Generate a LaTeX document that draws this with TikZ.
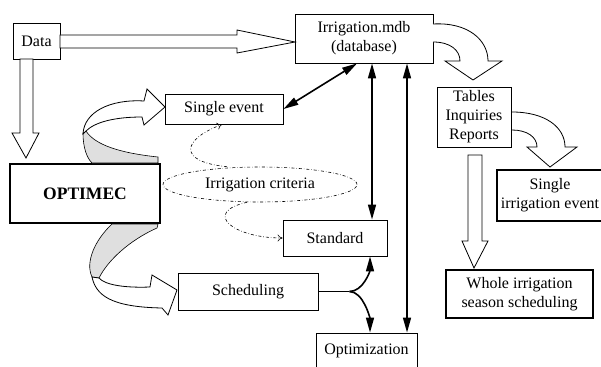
\documentclass[tikz,border=0pt]{standalone}
\usepackage{fontspec}
\setmainfont{Liberation Serif}
\usetikzlibrary{arrows.meta,shapes.geometric,calc}

\begin{document}
\begin{tikzpicture}[x=1pt,y=-1pt,
  font=\fontsize{16}{19}\selectfont,
  box/.style={draw,line width=0.9pt,inner sep=0pt,align=center},
  boldbox/.style={box,line width=2.4pt},
  hollow/.style={draw,fill=white,line width=0.8pt},
  twist/.style={draw,fill=gray!25,line width=0.6pt},
  link/.style={line width=1.6pt,{Triangle[length=15pt,width=8pt]}-{Triangle[length=15pt,width=8pt]}},
  feed/.style={line width=1.6pt,-{Triangle[length=15pt,width=8pt]}},
  hint/.style={line width=0.6pt,dashdotted,-{To[length=5pt,width=7pt]}}]
\useasboundingbox (0,0) rectangle (601,366);

% boxes
\node[box,minimum width=47pt,minimum height=36pt] (data) at (36.5,41) {Data};
\node[box,minimum width=138pt,minimum height=49pt] (irr) at (364,38.5) {Irrigation.mdb\\(database)};
\node[boldbox,minimum width=150pt,minimum height=59pt,font=\fontsize{17.5}{20}\selectfont\bfseries] (optimec) at (85,193.5) {OPTIMEC};
\node[box,minimum width=118pt,minimum height=30pt] (single) at (224,109) {Single event};
\node[ellipse,draw,dashdotted,line width=0.6pt,minimum width=194pt,minimum height=35pt,inner sep=0pt] (crit) at (260,184.5) {Irrigation criteria};
\node[box,minimum width=104pt,minimum height=36pt] (standard) at (335,238) {Standard};
\node[box,minimum width=140pt,minimum height=37pt] (sched) at (248,291.5) {Scheduling};
\node[box,minimum width=101pt,minimum height=35pt] (optim) at (366.5,350.5) {Optimization};
\node[box,minimum width=74pt,minimum height=60pt] (tables) at (474,117) {Tables\\Inquiries\\Reports};
\node[boldbox,minimum width=106pt,minimum height=51pt] (singev) at (550,195.5) {Single\\irrigation event\rule[-4pt]{0pt}{0pt}};
\node[boldbox,minimum width=147pt,minimum height=48pt] (whole) at (519.5,294) {Whole irrigation\\season scheduling};

% database links
\draw[link] (single.east) -- ([xshift=-7pt]irr.south);
\draw[link] ([xshift=8pt]irr.south) -- ([xshift=8pt]irr.south |- standard.north);
\draw[link] ([xshift=43pt]irr.south) -- ([xshift=43pt]irr.south |- optim.north);
\coordinate (fork) at ($(sched.east)+(31,0)$);
\draw[line width=1.6pt] (sched.east) -- (fork);
\draw[feed] (fork) .. controls +(14,0) and +(0,14) .. ([xshift=35pt]standard.south);
\draw[feed] (fork) .. controls +(14,0) and +(0,-14) .. ([xshift=3.5pt]optim.north);

% criteria
\draw[hint] ([xshift=-33pt]crit.north) .. controls +(-50,-5) and +(-40,15) .. ([xshift=-2pt]single.south);
\draw[hint] ([xshift=-13pt]crit.south) .. controls +(-45,10) and +(-50,0) .. (standard.west);

% hollow arrows
\draw[hollow] (60,35) -- (237,35) -- (237,30) -- (295,42) -- (237,53) -- (237,48) -- (60,48) -- cycle;
\draw[hollow] (20,59) -- (20,133) -- (12,133) -- (26,158) -- (39,133) -- (33,133) -- (33,59) -- cycle;
\draw[hollow] (433,24) .. controls (468,22) and (488,40) .. (488,61) -- (502,61) -- (473,80) -- (445,61) -- (460,61) .. controls (460,50) and (450,42) .. (433,42);
\draw[hollow] (512,112) .. controls (545,112) and (565,127) .. (565,147) -- (577,147) -- (550,167) -- (527,147) -- (537,147) .. controls (537,137) and (527,130) .. (512,130);
\draw[hollow] (468,155) -- (468,241) -- (462,241) -- (474,268) -- (488,241) -- (482,241) -- (482,155) -- cycle;

% twisted arrows out of OPTIMEC
\draw[twist] (83,133) .. controls (83,148) and (87,158) .. (92,163) -- (158,163) -- (158,157) .. controls (120,153) and (95,145) .. (86,131) -- cycle;
\draw[hollow] (86,131) .. controls (95,122) and (115,117) .. (142,117) -- (144,125) -- (165,107) -- (147,89) -- (144,101) .. controls (110,99) and (84,112) .. (83,134) -- cycle;
\draw[twist] (112,224) .. controls (95,240) and (85,262) .. (92,277) -- (99,278) .. controls (108,260) and (130,240) .. (157,228) -- (158,224) -- cycle;
\draw[hollow] (92,277) .. controls (96,295) and (110,307) .. (162,308) -- (168,315) -- (177,290) -- (152,275) -- (150,287) .. controls (125,288) and (105,285) .. (99,278) -- cycle;
\end{tikzpicture}
\end{document}
